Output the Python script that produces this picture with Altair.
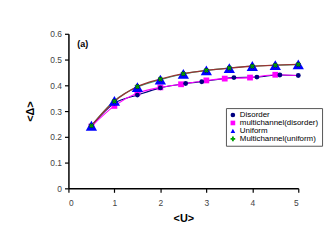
import altair as alt
import pandas as pd

series_names = ["Disorder", "multichannel(disorder)", "Uniform", "Multichannel(uniform)"]

u_dis = [0.5, 1.0, 1.5, 2.0, 2.55, 2.9, 3.6, 4.1, 4.6, 5.0]
d_dis = [0.243, 0.33, 0.362, 0.39, 0.407, 0.414, 0.43, 0.432, 0.44, 0.438]

u_mcd = [0.5, 1.0, 1.5, 2.0, 2.45, 3.0, 3.4, 3.95, 4.5, 5.0]
d_mcd = [0.24, 0.32, 0.37, 0.392, 0.404, 0.419, 0.426, 0.43, 0.441, 0.438]

u_uni = [0.5, 1.0, 1.5, 2.0, 2.5, 3.0, 3.5, 4.0, 4.5, 5.0]
d_uni = [0.243, 0.34, 0.393, 0.422, 0.444, 0.458, 0.467, 0.475, 0.478, 0.481]

u_mcu = [0.5, 1.0, 1.5, 2.0, 2.5, 3.0, 3.5, 4.0, 4.5, 5.0]
d_mcu = [0.243, 0.338, 0.395, 0.424, 0.445, 0.458, 0.467, 0.474, 0.478, 0.481]

rows = []
for name, us, ds in zip(series_names, [u_dis, u_mcd, u_uni, u_mcu], [d_dis, d_mcd, d_uni, d_mcu]):
    for i, (u, d) in enumerate(zip(us, ds)):
        rows.append({"series": name, "u": u, "d": d, "order": i})
df = pd.DataFrame(rows)

line_colors = ["#000080", "#FF00FF", "#33AA77", "#993333"]
marker_colors = ["#000080", "#FF00FF", "#0000FF", "#00A000"]
marker_shapes = ["circle", "square", "triangle-up", "cross"]

x = alt.X("u:Q", scale=alt.Scale(domain=[0, 5]),
          axis=alt.Axis(values=[0, 1, 2, 3, 4, 5], title="<U>", format="d"))
y = alt.Y("d:Q", scale=alt.Scale(domain=[0, 0.6]),
          axis=alt.Axis(values=[0, 0.1, 0.2, 0.3, 0.4, 0.5, 0.6], title="<Δ>", format="~g"))

leg = alt.Legend(title=None, orient="none", legendX=159, legendY=75,
                 strokeColor="#555", padding=3, labelFontSize=8,
                 labelFont="Liberation Sans", symbolSize=22,
                 rowPadding=0, labelOffset=3, fillColor="white")
color_enc = alt.Color("series:N", scale=alt.Scale(domain=series_names, range=marker_colors), legend=leg)
shape_enc = alt.Shape("series:N", scale=alt.Scale(domain=series_names, range=marker_shapes), legend=leg)

base = alt.Chart(df)

def line(name, color, width=1.1):
    return base.transform_filter(alt.datum.series == name).mark_line(
        strokeWidth=width, interpolate="monotone", color=color).encode(x=x, y=y, order="order:Q")

l_dis = line("Disorder", line_colors[0])
l_mcd = line("multichannel(disorder)", line_colors[1])
l_uni = line("Uniform", line_colors[2])
l_mcu = line("Multichannel(uniform)", line_colors[3], 1.3)

def pts(cond, size, **kw):
    return base.transform_filter(cond).mark_point(filled=True, opacity=1, size=size, **kw).encode(
        x=x, y=y, color=color_enc, shape=shape_enc)

p_mcd = pts((alt.datum.series == "multichannel(disorder)") & (alt.datum.u < 5), 34)
p_dis = pts(alt.datum.series == "Disorder", 24)
p_uni = pts(alt.datum.series == "Uniform", 130)
p_mcu = pts(alt.datum.series == "Multichannel(uniform)", 22, angle=45, stroke="#003300", strokeWidth=0.5)

label = alt.Chart(pd.DataFrame({"t": ["(a)"]})).mark_text(
    font="Liberation Sans", fontSize=9, fontWeight="bold", align="left", baseline="middle"
).encode(x=alt.value(9), y=alt.value(10), text="t:N")

chart = alt.layer(l_uni, l_dis, l_mcd, l_mcu, p_mcd, p_dis, p_uni, p_mcu, label).properties(
    width=232, height=156,
    autosize=alt.AutoSizeParams(type="none"),
    padding={"left": 61, "top": 25, "right": 30, "bottom": 40},
).configure_view(stroke=None).configure_axis(
    grid=False, domainColor="black", domainWidth=1.5, tickColor="black", tickSize=4,
    tickWidth=1.2, labelFont="Liberation Sans", labelFontSize=8.5, labelColor="#444",
    titleFont="Liberation Sans", titleFontSize=11, titleFontWeight="bold", titleColor="black",
).configure_axisX(labelPadding=6, titlePadding=6).configure_axisY(labelPadding=3, titlePadding=14)

chart.save("out.html", embed_options={"renderer": "svg", "actions": False})
